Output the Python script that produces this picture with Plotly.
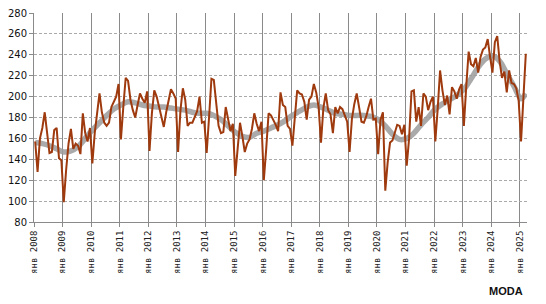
import plotly.graph_objects as go

years = list(range(2008, 2026))
tick_labels = [f"янв {y}" for y in years]

v2008 = [157, 128, 160, 170, 185, 162, 146, 147, 168, 170, 141, 139]
v2009 = [99, 130, 155, 169, 150, 155, 153, 145, 184, 165, 157, 170]
v2010 = [136, 165, 182, 203, 185, 175, 172, 175, 190, 195, 200, 212]
v2011 = [159, 190, 218, 215, 197, 187, 180, 192, 203, 198, 194, 205]
v2012 = [148, 184, 206, 200, 190, 180, 171, 185, 198, 207, 203, 198]
v2013 = [147, 187, 208, 197, 172, 175, 175, 180, 186, 200, 175, 176]
v2014 = [146, 180, 217, 216, 190, 172, 165, 166, 190, 180, 167, 174]
v2015 = [124, 150, 175, 162, 147, 155, 159, 169, 184, 174, 167, 176]
v2016 = [120, 150, 184, 182, 178, 173, 167, 204, 192, 190, 172, 169]
v2017 = [153, 178, 206, 203, 202, 195, 178, 197, 200, 212, 204, 190]
v2018 = [156, 189, 203, 187, 183, 165, 190, 184, 190, 188, 182, 176]
v2019 = [147, 179, 193, 203, 190, 176, 175, 181, 190, 198, 178, 179]
v2020 = [145, 178, 185, 110, 137, 156, 158, 165, 173, 172, 164, 173]
v2021 = [134, 160, 205, 206, 176, 190, 172, 203, 200, 187, 195, 200]
v2022 = [157, 188, 225, 206, 192, 201, 183, 209, 205, 198, 207, 212]
v2023 = [172, 210, 243, 231, 229, 237, 223, 238, 245, 247, 255, 238]
v2024 = [223, 252, 258, 234, 218, 224, 204, 225, 213, 212, 208, 196]
v2025 = [157, 199, 241]

monthly = (v2008 + v2009 + v2010 + v2011 + v2012 + v2013 + v2014 + v2015 + v2016
           + v2017 + v2018 + v2019 + v2020 + v2021 + v2022 + v2023 + v2024 + v2025)
month_idx = list(range(len(monthly)))

# trend (smoothed series) read at quarter months: month index, value
trend_idx = [0, 3, 6, 9, 12, 15, 18, 21, 24, 27, 30, 33, 36, 39, 42, 45,
             48, 51, 54, 57, 60, 63, 66, 69, 72, 75, 78, 81, 84, 87, 90, 93,
             96, 99, 102, 105, 108, 111, 114, 117, 120, 123, 126, 129,
             132, 135, 138, 141, 144, 147, 150, 153, 156, 159, 162, 165,
             168, 171, 174, 177, 180, 183, 186, 189, 192, 195, 198, 201, 204, 206]
trend_val = [156, 155, 153, 150, 147, 148, 152, 160, 168, 175, 182, 188,
             192, 195, 194, 192, 191, 190, 190, 189, 188, 187, 185, 184,
             184, 182, 178, 172, 166, 162, 161, 165, 167, 170, 173, 177,
             182, 186, 190, 192, 190, 187, 184, 183, 182, 182, 182, 181,
             178, 172, 164, 159, 160, 165, 173, 180, 188, 193, 197, 201,
             207, 217, 228, 236, 239, 234, 222, 210, 198, 203]

fig = go.Figure()
fig.add_trace(go.Scatter(
    x=trend_idx, y=trend_val, mode="lines",
    line=dict(color="rgba(155,155,155,0.85)", width=5.5, shape="spline", smoothing=1.0),
    hoverinfo="skip", showlegend=False))
fig.add_trace(go.Scatter(
    x=month_idx, y=monthly, mode="lines",
    line=dict(color="#9E3A0E", width=2),
    showlegend=False))

tickvals = [12 * i - 0.5 for i in range(len(years))]

fig.update_layout(
    width=546, height=304,
    margin=dict(l=34, r=19, t=7, b=82),
    paper_bgcolor="white", plot_bgcolor="white",
    xaxis=dict(
        range=[-0.5, len(monthly) - 0.5],
        tickmode="array", tickvals=tickvals, ticktext=tick_labels,
        tickangle=-90,
        tickfont=dict(family="DejaVu Sans Mono", size=9, color="#222"),
        showgrid=True, gridcolor="#8a8a8a", gridwidth=1,
        showline=True, linecolor="#8a8a8a", linewidth=1,
        ticks="outside", ticklen=4, tickcolor="#8a8a8a",
        zeroline=False,
    ),
    yaxis=dict(
        range=[80, 280], dtick=20, tick0=80,
        tickfont=dict(family="DejaVu Sans", size=10, color="#111"),
        showgrid=True, gridcolor="#aaaaaa", gridwidth=1, griddash="3px,2px",
        showline=True, linecolor="#8a8a8a", linewidth=1,
        ticks="outside", ticklen=4, tickcolor="#8a8a8a",
        zeroline=False,
    ),
    annotations=[dict(
        text="<b>MODA</b>", xref="paper", yref="paper",
        x=0.957, y=-0.33, xanchor="center", yanchor="middle",
        showarrow=False,
        font=dict(family="Liberation Sans", size=11, color="#111"))],
)

fig.write_html("out.html")
